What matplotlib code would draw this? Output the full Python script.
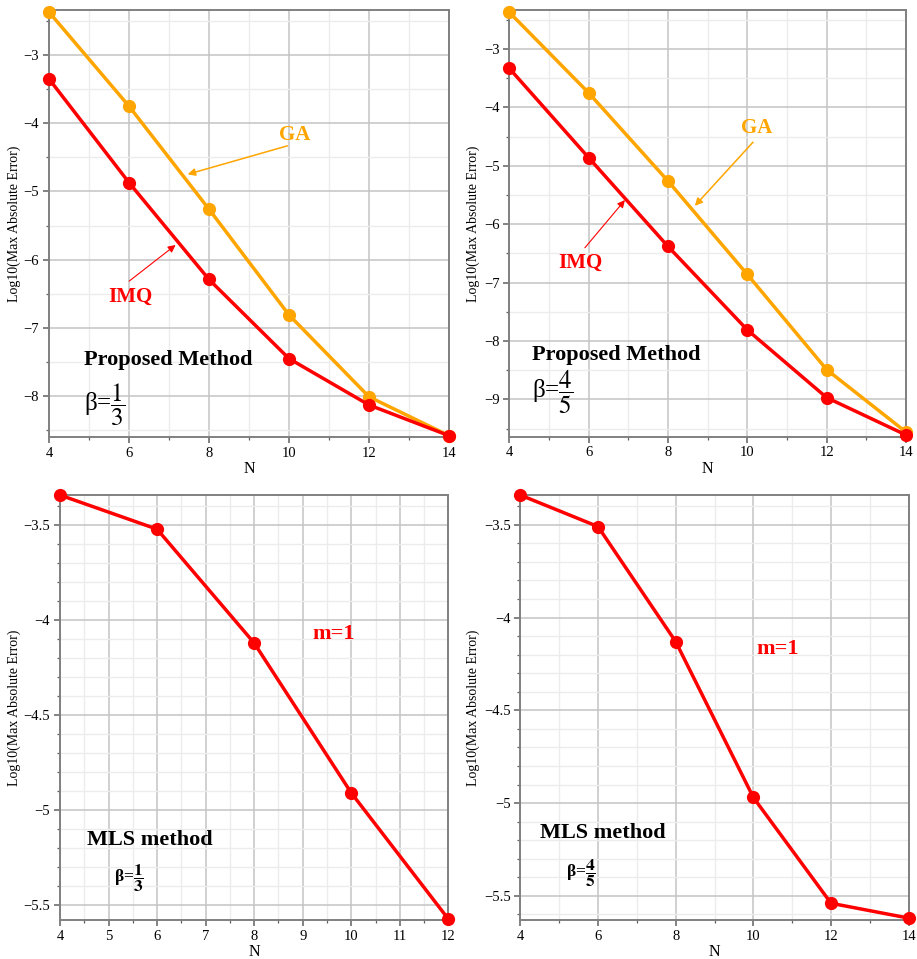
import matplotlib
matplotlib.use("Agg")
import matplotlib.pyplot as plt
from matplotlib.ticker import MultipleLocator, FuncFormatter

plt.rcParams["font.family"] = ["Liberation Serif", "DejaVu Serif"]
plt.rcParams["mathtext.fontset"] = "stix"

# Node counts
n_top = [4, 6, 8, 10, 12, 14]
n_mls_a = [4, 6, 8, 10, 12]
n_mls_b = [4, 6, 8, 10, 12, 14]

# Proposed method, beta = 1/3
ga_b13 = [-2.37, -3.75, -5.26, -6.81, -8.01, -8.58]
imq_b13 = [-3.35, -4.87, -6.29, -7.45, -8.13, -8.58]

# Proposed method, beta = 4/5
ga_b45 = [-2.37, -3.75, -5.26, -6.86, -8.49, -9.56]
imq_b45 = [-3.33, -4.86, -6.38, -7.81, -8.97, -9.61]

# MLS method, m = 1
mls_b13 = [-3.34, -3.52, -4.12, -4.91, -5.575]
mls_b45 = [-3.34, -3.51, -4.13, -4.97, -5.54, -5.62]

RED = "#ff0000"
ORANGE = "#ffa500"
ylabel = "Log10(Max Absolute Error)"

fig = plt.figure(figsize=(9.17, 9.59), dpi=100)

boxes = [
    [0.0534, 0.5443, 0.4362, 0.4453],
    [0.5554, 0.5446, 0.4326, 0.4450],
    [0.0654, 0.0407, 0.4235, 0.4431],
    [0.5674, 0.0407, 0.4236, 0.4431],
]
axes = [fig.add_axes(b) for b in boxes]

fmt = FuncFormatter(lambda v, p: ("%g" % v).replace("-", "\u2212"))


def style(ax, xmaj, xmin, ymaj, ymin, label_x):
    ax.xaxis.set_major_locator(MultipleLocator(xmaj))
    ax.xaxis.set_minor_locator(MultipleLocator(xmin))
    ax.yaxis.set_major_locator(MultipleLocator(ymaj))
    ax.yaxis.set_minor_locator(MultipleLocator(ymin))
    ax.yaxis.set_major_formatter(fmt)
    ax.grid(which="major", color="#c4c4c4", lw=1.1, zorder=0)
    ax.grid(which="minor", color="#ececec", lw=1.0, zorder=0)
    ax.set_axisbelow(True)
    for s in ax.spines.values():
        s.set_color("#808080")
        s.set_linewidth(1.4)
    ax.tick_params(which="major", length=4, width=1.1, color="#606060",
                   labelsize=10.5, pad=3)
    ax.tick_params(which="minor", length=2.5, width=0.9, color="#606060")
    ax.set_xlabel("N", fontsize=11.5, labelpad=1)
    ax.set_ylabel(ylabel, fontsize=10)
    ax.yaxis.set_label_coords(label_x, 0.5)


def series(ax, x, y, color, z):
    ax.plot(x, y, color=color, lw=2.5, marker="o", ms=9.5,
            markeredgewidth=0, zorder=z, clip_on=False)


# Panel 1
ax = axes[0]
series(ax, n_top, ga_b13, ORANGE, 3)
series(ax, n_top, imq_b13, RED, 4)
ax.set_xlim(4, 14)
ax.set_ylim(-8.6, -2.34)
style(ax, 2, 1, 1, 0.5, -0.07)
ax.annotate("", xy=(7.4, -4.76), xytext=(10.03, -4.32),
            arrowprops=dict(arrowstyle="-|>", color=ORANGE, lw=1.1,
                            mutation_scale=11))
ax.text(10.15, -4.17, "GA", color=ORANGE, fontsize=15, fontweight="bold",
        ha="center", va="center")
ax.annotate("", xy=(7.22, -5.76), xytext=(5.95, -6.34),
            arrowprops=dict(arrowstyle="-|>", color=RED, lw=0.8,
                            mutation_scale=11))
ax.text(6.03, -6.55, "IMQ", color=RED, fontsize=15, fontweight="bold",
        ha="center", va="center")
ax.text(4.88, -7.47, "Proposed Method", fontsize=16, fontweight="bold",
        ha="left", va="center")
ax.text(4.88, -8.13, r"β=$\dfrac{1}{3}$", fontsize=18,
        ha="left", va="center")

# Panel 2
ax = axes[1]
series(ax, n_top, ga_b45, ORANGE, 3)
series(ax, n_top, imq_b45, RED, 4)
ax.set_xlim(4, 14)
ax.set_ylim(-9.64, -2.33)
style(ax, 2, 1, 1, 0.5, -0.073)
ax.annotate("", xy=(8.63, -5.72), xytext=(10.19, -4.56),
            arrowprops=dict(arrowstyle="-|>", color=ORANGE, lw=1.1,
                            mutation_scale=11))
ax.text(10.24, -4.35, "GA", color=ORANGE, fontsize=15, fontweight="bold",
        ha="center", va="center")
ax.annotate("", xy=(6.96, -5.55), xytext=(5.86, -6.44),
            arrowprops=dict(arrowstyle="-|>", color=RED, lw=0.8,
                            mutation_scale=11))
ax.text(5.78, -6.66, "IMQ", color=RED, fontsize=15, fontweight="bold",
        ha="center", va="center")
ax.text(4.57, -8.24, "Proposed Method", fontsize=16, fontweight="bold",
        ha="left", va="center")
ax.text(4.57, -8.88, r"β=$\dfrac{4}{5}$", fontsize=18,
        ha="left", va="center")

# Panel 3
ax = axes[2]
series(ax, n_mls_a, mls_b13, RED, 4)
ax.set_xlim(4, 12)
ax.set_ylim(-5.58, -3.34)
style(ax, 1, 0.5, 0.5, 0.1, -0.10)
ax.text(9.63, -4.07, "m=1", color=RED, fontsize=16, fontweight="bold",
        ha="center", va="center")
ax.text(4.56, -5.16, "MLS method", fontsize=16, fontweight="bold",
        ha="left", va="center")
ax.text(5.12, -5.36, r"β=$\dfrac{\mathbf{1}}{\mathbf{3}}$",
        fontsize=12.5, fontweight="bold", ha="left", va="center")

# Panel 4
ax = axes[3]
series(ax, n_mls_b, mls_b45, RED, 4)
ax.set_xlim(4, 14)
ax.set_ylim(-5.63, -3.34)
style(ax, 2, 1, 0.5, 0.1, -0.103)
ax.text(10.62, -4.17, "m=1", color=RED, fontsize=16, fontweight="bold",
        ha="center", va="center")
ax.text(4.51, -5.16, "MLS method", fontsize=16, fontweight="bold",
        ha="left", va="center")
ax.text(5.17, -5.38, r"β=$\dfrac{\mathbf{4}}{\mathbf{5}}$",
        fontsize=12.5, fontweight="bold", ha="left", va="center")

fig.savefig("out.png", dpi=100)
